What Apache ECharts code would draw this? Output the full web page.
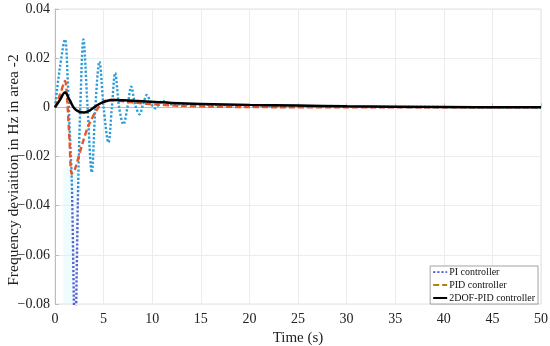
<!DOCTYPE html>
<html>
<head>
<meta charset="utf-8">
<script src="https://cdn.jsdelivr.net/npm/echarts@6/dist/echarts.min.js"></script>
<style>html,body{margin:0;padding:0;background:#fff;}#c{width:550px;height:346px;}</style>
</head>
<body>
<div id="c"></div>
<script>
// ---- data ----
const seriesNames = ['PI controller', 'PID controller', '2DOF-PID controller'];
const xTicks = [0, 5, 10, 15, 20, 25, 30, 35, 40, 45, 50];
const yTicks = [-0.08, -0.06, -0.04, -0.02, 0, 0.02, 0.04];

const piT = [0, 0.5, 1.03, 1.3, 1.5, 1.72, 2.06, 2.4, 2.6, 2.92, 3.35, 3.78, 4.15, 4.57, 5.0, 5.5, 5.85, 6.19, 6.6, 7.04, 7.45, 7.84, 8.25, 8.7, 9.05, 9.45, 9.9, 10.3, 10.7, 11.1, 11.6, 12.5, 14, 16, 20, 25, 30, 40, 50];
const piV = [0, 0.016, 0.0276, 0.012, -0.008, -0.029, -0.092, -0.029, 0.0, 0.0276, 0.0, -0.0265, 0.0, 0.0186, 0.0, -0.0143, 0.0, 0.014, 0.0, -0.0069, 0.0, 0.0084, 0.001, -0.0028, 0.001, 0.005, 0.0015, -0.0004, 0.0012, 0.0027, 0.0012, 0.0012, 0.0012, 0.001, 0.0007, 0.0004, 0.0002, 0.0001, 0.0];

const pidT = [0, 0.5, 1.03, 1.25, 1.5, 1.72, 2.06, 2.8, 3.43, 4.3, 5.15, 6.0, 7.0, 8.5, 10.3, 13, 16, 20, 30, 40, 50];
const pidV = [0, 0.005, 0.0107, 0.003, -0.014, -0.027, -0.025, -0.015, -0.0076, -0.001, 0.0026, 0.003, 0.0025, 0.0018, 0.0012, 0.0006, 0.0003, 0.0001, 0.0, 0.0, 0.0];

const dofT = [0, 0.5, 1.03, 1.5, 2.0, 2.5, 3.0, 3.6, 4.2, 5.0, 5.85, 7.0, 8.5, 10.3, 12, 15, 20, 25, 30, 40, 50];
const dofV = [0, 0.003, 0.006, 0.003, -0.0005, -0.0018, -0.0021, -0.0012, 0.0005, 0.0022, 0.003, 0.0029, 0.0026, 0.0022, 0.0018, 0.0014, 0.001, 0.0007, 0.0004, 0.0001, 0.0];

function pairs(t, v) { return t.map((x, i) => [x, v[i]]); }

const FONT = 'Liberation Serif';
const chart = echarts.init(document.getElementById('c'), null, {renderer: 'canvas'});

function yLabel(v) {
  if (Math.abs(v) < 1e-9) return '0';
  const s = Math.abs(v).toFixed(2);
  return v < 0 ? '\u2212' + s : s;
}

chart.setOption({
  animation: false,
  backgroundColor: '#fff',
  grid: {left: 55, right: 9, top: 9, bottom: 42, show: true, borderColor: '#e3e3e3', borderWidth: 1, outerBoundsMode: 'none', containLabel: false},
  xAxis: {
    type: 'value', min: xTicks[0], max: xTicks[xTicks.length - 1], interval: 5,
    name: 'Time (s)', nameLocation: 'middle', nameGap: 26,
    nameTextStyle: {fontFamily: FONT, fontSize: 15, color: '#222'},
    axisLine: {show: true, lineStyle: {color: '#bdbdbd', width: 1}},
    axisTick: {show: true, inside: true, length: 4, lineStyle: {color: '#bdbdbd'}},
    axisLabel: {fontFamily: FONT, fontSize: 14, color: '#222', margin: 8, formatter: v => String(v)},
    splitLine: {show: true, lineStyle: {color: '#ececec', width: 1}}
  },
  yAxis: {
    type: 'value', min: yTicks[0], max: yTicks[yTicks.length - 1], interval: 0.02,
    axisLine: {show: true, lineStyle: {color: '#bdbdbd', width: 1}},
    axisTick: {show: true, inside: true, length: 4, lineStyle: {color: '#bdbdbd'}},
    axisLabel: {fontFamily: FONT, fontSize: 14, color: '#222', margin: 5, formatter: yLabel},
    splitLine: {show: true, lineStyle: {color: '#ececec', width: 1}}
  },
  graphic: [{
    type: 'text', x: 14, y: 170, rotation: Math.PI / 2,
    style: {text: 'Frequency deviaition in Hz in area -2', fontFamily: FONT, fontSize: 15.5, fill: '#222', align: 'center', verticalAlign: 'middle'}
  }],
  legend: {
    orient: 'vertical', right: 12, bottom: 42,
    backgroundColor: '#fff', borderColor: '#8c8c8c', borderWidth: 0.8,
    padding: [1, 3, 1, 2], itemGap: 3, itemWidth: 14, itemHeight: 9,
    itemStyle: {opacity: 0},
    textStyle: {fontFamily: FONT, fontSize: 10, color: '#111', padding: [0, 0, 0, -3]},
    data: [
      {name: seriesNames[0]},
      {name: seriesNames[1], lineStyle: {color: '#a8860c'}},
      {name: seriesNames[2]}
    ]
  },
  series: [
    {
      name: seriesNames[0], type: 'line', data: pairs(piT, piV), symbol: 'none', smooth: 0.35,
      lineStyle: {width: 2.4, type: [2.2, 1.9], cap: 'butt',
        color: new echarts.graphic.LinearGradient(0, 0, 0, 1, [
          {offset: 0, color: '#2a9cd8'}, {offset: 0.46, color: '#2a9cd8'},
          {offset: 0.56, color: '#5a5fd2'}, {offset: 1, color: '#5a5fd2'}
        ])},
      itemStyle: {color: '#3a8ee0'},
      z: 2,
      markArea: {silent: true, itemStyle: {color: 'rgba(205,246,250,0.35)'},
        data: [[{xAxis: 0.85, yAxis: -0.08}, {xAxis: 2.4, yAxis: -0.025}]]}
    },
    {
      name: seriesNames[1], type: 'line', data: pairs(pidT, pidV), symbol: 'none', smooth: 0.3,
      lineStyle: {width: 2.4, type: [6, 3], color: '#e4572e'},
      itemStyle: {color: '#e4572e'},
      z: 3
    },
    {
      name: seriesNames[2], type: 'line', data: pairs(dofT, dofV), symbol: 'none', smooth: 0.4,
      lineStyle: {width: 2.5, color: '#000'},
      itemStyle: {color: '#000'},
      z: 4
    }
  ]
});
</script>
</body>
</html>
